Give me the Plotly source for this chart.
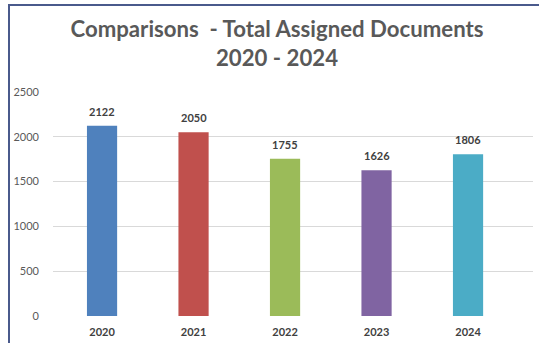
import plotly.graph_objects as go

years = ["2020", "2021", "2022", "2023", "2024"]
documents = [2122, 2050, 1755, 1626, 1806]
colors = ["#4F81BD", "#C0504D", "#9BBB59", "#8064A2", "#4BACC6"]
y_ticks = [0, 500, 1000, 1500, 2000, 2500]

W, H = 539, 343
ml, mr, mt, mb = 53, 6, 92, 27
pw, ph = W - ml - mr, H - mt - mb

def px_x(p):
    return (p - ml) / pw

def px_y(p):
    return (H - mb - p) / ph

fig = go.Figure()
fig.add_trace(go.Bar(
    x=years, y=documents,
    marker=dict(color=colors, line=dict(width=0)),
    width=0.33,
    hoverinfo="x+y",
))

for i, v in enumerate(documents):
    fig.add_annotation(
        x=i, y=v, xref="x", yref="y", text=str(v), showarrow=False,
        yanchor="bottom", yshift=6,
        font=dict(family="Lato", size=11, color="#404040", weight="bold"),
    )

fig.update_layout(
    width=W, height=H,
    margin=dict(l=ml, r=mr, t=mt, b=mb),
    paper_bgcolor="white", plot_bgcolor="white",
    showlegend=False,
    font=dict(family="Lato", color="#595959"),
    title=dict(
        text="Comparisons &nbsp;- Total Assigned Documents<br>2020 - 2024",
        x=px_x(277), xref="paper", xanchor="center",
        y=1 - 45 / H + 8 / H, yanchor="middle", yref="container",
        font=dict(family="Lato", size=22.2, color="#595959", weight="bold"),
    ),
    xaxis=dict(
        type="category", range=[-0.536, 4.71],
        showgrid=False, zeroline=False, showline=False,
        ticks="", tickfont=dict(family="Lato", size=11, color="#404040", weight="bold"),
        ticklabelstandoff=8,
    ),
    yaxis=dict(
        range=[0, 2500], tickvals=y_ticks,
        showgrid=True, gridcolor="#D9D9D9", gridwidth=1,
        zeroline=False, showline=False, ticks="",
        tickfont=dict(family="Lato", size=11, color="#595959"),
        ticklabelstandoff=13,
    ),
    shapes=[
        dict(type="line", xref="paper", yref="paper",
             x0=px_x(9), x1=px_x(9), y0=px_y(4), y1=px_y(343),
             line=dict(color="#4A5A8C", width=2)),
        dict(type="line", xref="paper", yref="paper",
             x0=px_x(8), x1=px_x(539), y0=px_y(5), y1=px_y(5),
             line=dict(color="#4A5A8C", width=2)),
    ],
)

fig.write_html("out.html")
